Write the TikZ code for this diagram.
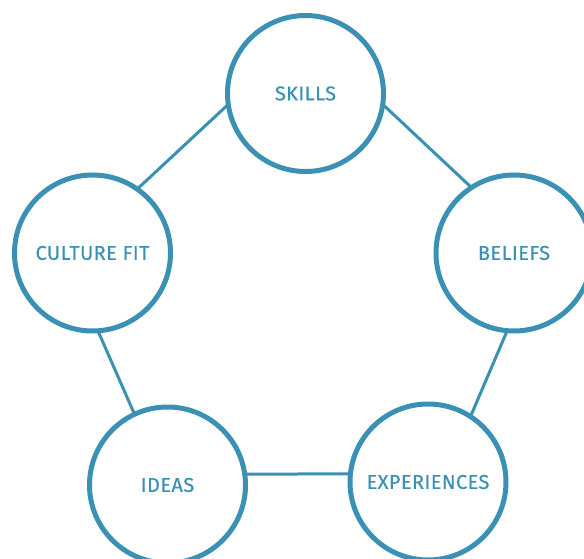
\documentclass[tikz,border=0pt]{standalone}
\usepackage{fontspec}
\setmainfont{Fira Sans}[LetterSpace=2,FakeBold=0.4]
\definecolor{ringblue}{RGB}{58,145,180}
\begin{document}
\begin{tikzpicture}[x=1pt,y=-1pt,
  ring/.style={circle,draw=ringblue,line width=5pt,minimum size=156pt,inner sep=0pt,outer sep=0pt,
    text=ringblue,font=\fontsize{20}{24}\selectfont},
  link/.style={draw=ringblue,line width=3pt}]
\useasboundingbox (0,0) rectangle (584,559);
\node[ring] (skills) at (305.5,93.5) {SKILLS};
\node[ring] (beliefs) at (514,253) {BELIEFS};
\node[ring] (culture) at (92.5,253) {CULTURE FIT};
\node[ring] (ideas) at (167.5,485) {IDEAS};
\node[ring] (exp) at (428,482) {EXPERIENCES};
\draw[link] (skills.-8.4) -- (beliefs.123.7);
\draw[link] (skills.188.4) -- (culture.55.4);
\draw[link] (culture.-86) -- (ideas.115.6);
\draw[link] (ideas.8) -- (exp.174);
\draw[link] (exp.57) -- (beliefs.265.7);
\end{tikzpicture}
\end{document}
